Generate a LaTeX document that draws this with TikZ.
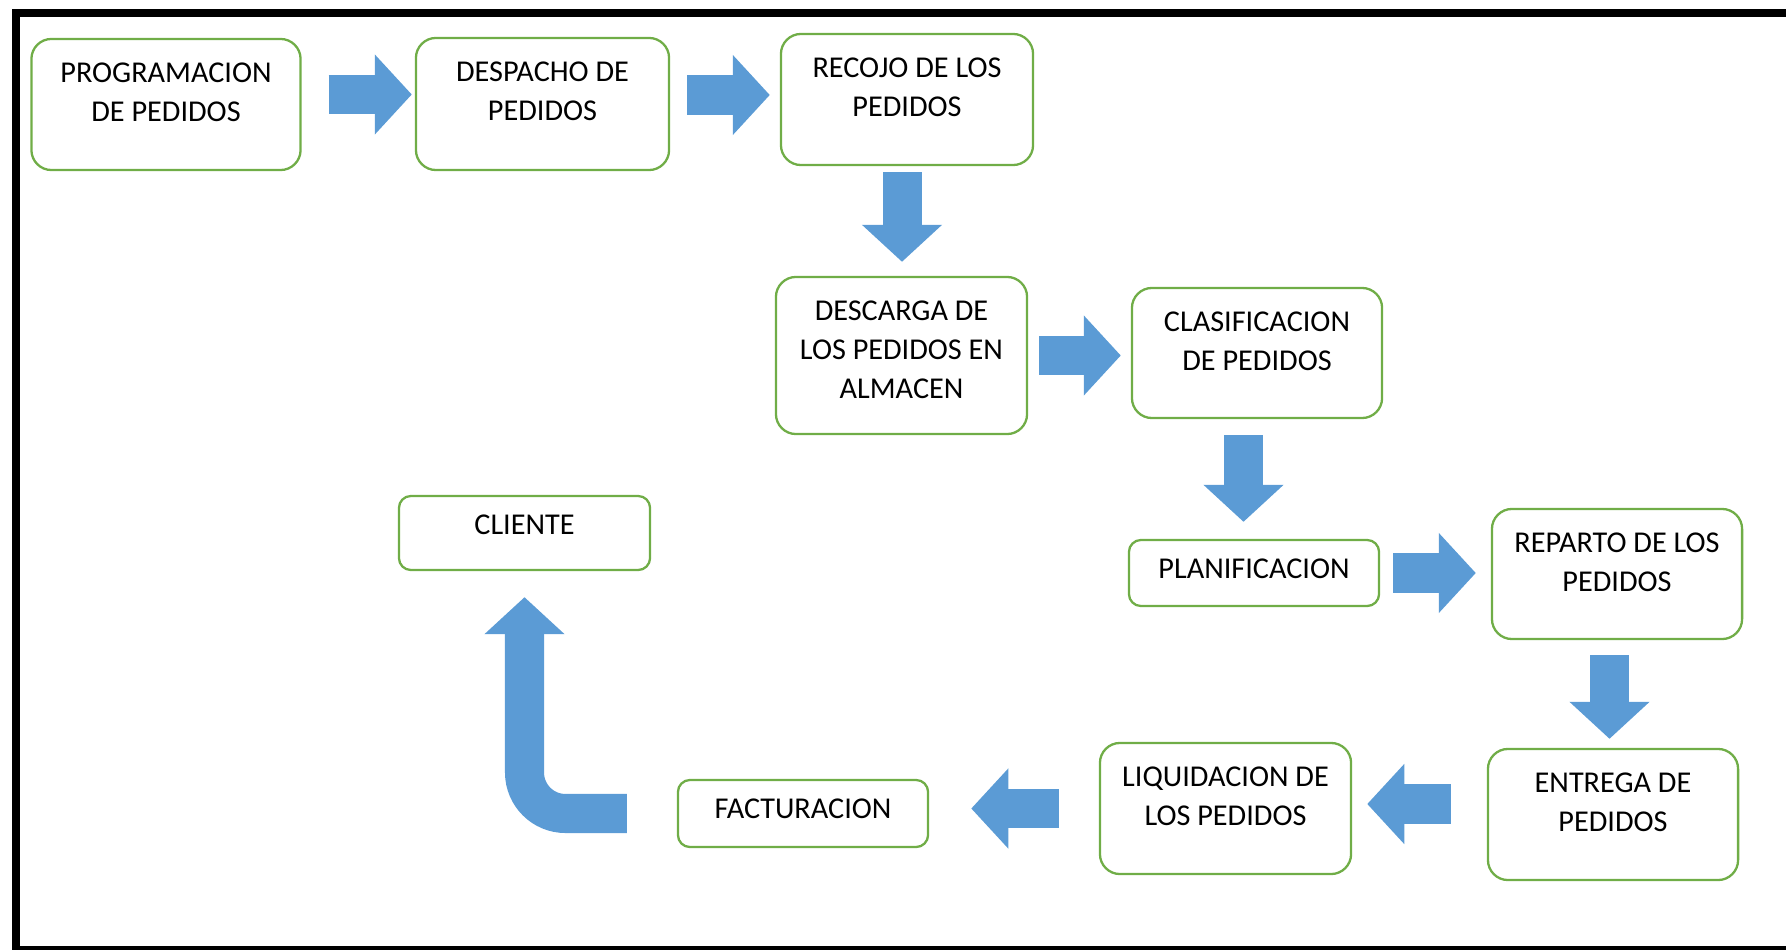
\documentclass[tikz,border=0pt]{standalone}
\usepackage{fontspec}
\setmainfont{Carlito}
\usetikzlibrary{arrows.meta}
\definecolor{verde}{HTML}{70AD47}
\definecolor{azul}{HTML}{5B9BD5}
\def\pad{0.235cm}

\begin{document}
\begin{tikzpicture}[x=0.01cm,y=-0.01cm,
	caja/.style 2 args={draw=verde,line width=0.65pt,rounded corners=0.2cm,inner sep=0pt,
		minimum width=#1,minimum height=#2,font=\fontsize{8.6}{11.1}\selectfont,
		execute at begin node={\begin{minipage}[c][#2][t]{#1}\centering\vspace*{\pad}},
		execute at end node={\end{minipage}}},
	chica/.style={rounded corners=0.12cm,font=\fontsize{8.6}{11.1}\selectfont\def\pad{0.185cm}},
	flecha/.style={draw=azul,line width=0.39cm,-{Triangle[length=0.37cm,width=0.78cm]}}]
\useasboundingbox (0,0) rectangle (1786,949);
\draw[line width=0.08cm] (16,960) -- (16,13) -- (1800,13);
\draw[line width=0.08cm] (12,950) -- (1800,950);

\node[caja={2.69cm}{1.31cm}] (prog) at (166,104.5) {PROGRAMACION\\DE PEDIDOS};
\node[caja={2.53cm}{1.32cm}] (desp) at (542.5,104) {DESPACHO DE\\PEDIDOS};
\node[caja={2.52cm}{1.31cm}] (reco) at (907,99.5) {RECOJO DE LOS\\PEDIDOS};
\node[caja={2.51cm}{1.57cm}] (desc) at (901.5,355.5) {DESCARGA DE\\LOS PEDIDOS EN\\ALMACEN};
\node[caja={2.5cm}{1.3cm}] (clas) at (1257,353) {CLASIFICACION\\DE PEDIDOS};
\node[caja={2.5cm}{0.66cm},chica] (plan) at (1254,573) {PLANIFICACION};
\node[caja={2.5cm}{1.3cm}] (repa) at (1617,574) {REPARTO DE LOS\\PEDIDOS};
\node[caja={2.5cm}{1.31cm}] (entr) at (1613,814.5) {ENTREGA DE\\PEDIDOS};
\node[caja={2.51cm}{1.31cm}] (liqu) at (1225.5,808.5) {LIQUIDACION DE\\LOS PEDIDOS};
\node[caja={2.5cm}{0.67cm},chica] (fact) at (803,813.5) {FACTURACION};
\node[caja={2.51cm}{0.74cm},chica] (clie) at (524.5,533) {CLIENTE};

\draw[flecha,shorten <=0.27cm,shorten >=0.03cm] ([yshift=0.10cm]prog.east) -- ([yshift=0.10cm]prog.east -| desp.west);
\draw[flecha,shorten <=0.17cm,shorten >=0.10cm] ([yshift=0.09cm]desp.east) -- ([yshift=0.09cm]desp.east -| reco.west);
\draw[flecha,shorten <=0.06cm,shorten >=0.14cm] ([xshift=-0.05cm]reco.south) -- ([xshift=-0.05cm]reco.south |- desc.north);
\draw[flecha,shorten <=0.11cm,shorten >=0.10cm] (desc.east) -- (desc.east -| clas.west);
\draw[flecha,shorten <=0.16cm,shorten >=0.17cm] ([xshift=-0.135cm]clas.south) -- ([xshift=-0.135cm]clas.south |- plan.north);
\draw[flecha,shorten <=0.13cm,shorten >=0.15cm] (plan.east) -- (plan.east -| repa.west);
\draw[flecha,shorten <=0.15cm,shorten >=0.09cm] ([xshift=-0.075cm]repa.south) -- ([xshift=-0.075cm]repa.south |- entr.north);
\draw[flecha,shorten <=0.36cm,shorten >=0.15cm] ([yshift=0.105cm]entr.west) -- ([yshift=0.105cm]entr.west -| liqu.east);
\draw[flecha,shorten <=0.40cm,shorten >=0.42cm] (liqu.west) -- (liqu.west -| fact.east);
\draw[flecha,rounded corners=0.41cm,shorten <=0.5cm,shorten >=0.26cm] (fact.west) -| (clie.south);
\end{tikzpicture}
\end{document}
